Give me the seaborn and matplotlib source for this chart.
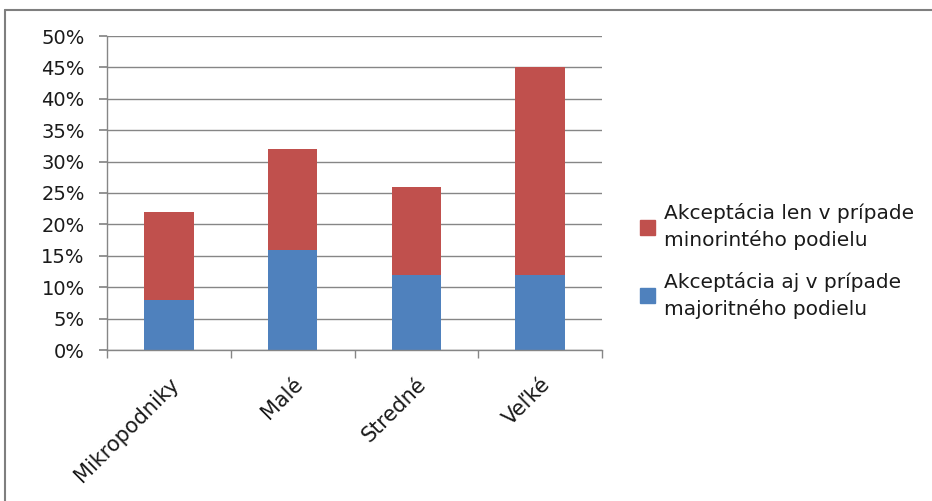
import matplotlib
matplotlib.use("Agg")
import matplotlib.pyplot as plt
import matplotlib.patches as mpatches
import matplotlib.lines as mlines
import seaborn as sns
import pandas as pd
import numpy as np

categories = ["Mikropodniky", "Malé", "Stredné", "Veľké"]
majority = [8, 16, 12, 12]      # Akceptácia aj v prípade majoritného podielu
minority = [14, 16, 14, 33]     # Akceptácia len v prípade minorintého podielu
yticks = [0, 5, 10, 15, 20, 25, 30, 35, 40, 45, 50]
series_labels = ["Akceptácia len v prípade\nminorintého podielu",
                 "Akceptácia aj v prípade\nmajoritného podielu"]

BLUE = "#4F81BD"
RED = "#C0504D"
GRID = "#868686"
TXT = "#1a1a1a"

sns.set_theme(style="white")
plt.rcParams["font.family"] = ["DejaVu Sans"]

df = pd.DataFrame({"cat": categories,
                   "maj": majority,
                   "tot": np.array(majority) + np.array(minority)})

fig = plt.figure(figsize=(9.32, 5.01), dpi=100)
ax = fig.add_axes([107/932, 1-350/501, (602-107)/932, (350-36)/501])

sns.barplot(data=df, x="cat", y="tot", color=RED, saturation=1, width=0.40,
            linewidth=0, ax=ax)
sns.barplot(data=df, x="cat", y="maj", color=BLUE, saturation=1, width=0.40,
            linewidth=0, ax=ax)

ax.set_xlim(-0.5, len(categories) - 0.5)
ax.set_ylim(0, 50)
ax.set_yticks(yticks)
ax.set_yticklabels([f"{v}%" for v in yticks], fontsize=14, color=TXT)
ax.yaxis.grid(True, color=GRID, linewidth=1)
ax.set_axisbelow(True)
ax.set_xlabel("")
ax.set_ylabel("")

for s in ["top", "right"]:
    ax.spines[s].set_visible(False)
for s in ["left", "bottom"]:
    ax.spines[s].set_color(GRID)
    ax.spines[s].set_linewidth(1)

ax.tick_params(axis="y", which="major", left=True, length=6, color=GRID, pad=10)
ax.set_xticks(range(len(categories)))
ax.set_xticklabels(categories, rotation=45, ha="right", rotation_mode="anchor",
                   fontsize=15, color=TXT)
ax.tick_params(axis="x", which="major", bottom=False, pad=11)
ax.set_xticks(np.arange(-0.5, len(categories)), minor=True)
ax.tick_params(axis="x", which="minor", bottom=True, length=6, color=GRID)

handles = [mpatches.Patch(color=RED, label=series_labels[0]),
           mpatches.Patch(color=BLUE, label=series_labels[1])]
leg = fig.legend(handles=handles, loc="center left", bbox_to_anchor=(622/932, 1-261/501),
                 frameon=False, fontsize=14.5, handlelength=0.75, handleheight=0.75,
                 handletextpad=0.45, labelspacing=1.05, labelcolor=TXT)
for t in leg.get_texts():
    t.set_linespacing(1.45)

# outer frame (top and left edges visible)
fig.add_artist(mlines.Line2D([5/932, 1], [1-10/501, 1-10/501], color="#7f7f7f", linewidth=1.5))
fig.add_artist(mlines.Line2D([5/932, 5/932], [0, 1-10/501], color="#7f7f7f", linewidth=1.5))

fig.savefig("out.png", dpi=100)
